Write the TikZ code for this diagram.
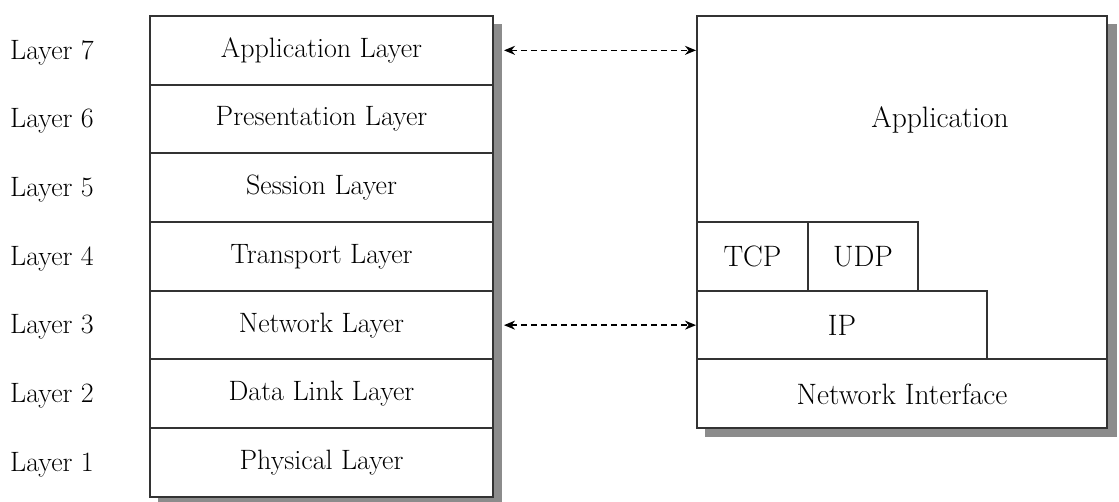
\documentclass[tikz,border=0pt]{standalone}
\usetikzlibrary{arrows.meta}
\begin{document}
\begin{tikzpicture}[x=1pt,y=-1pt,
  box/.style={draw=black!80, line width=2pt, fill=white, inner sep=0pt,
              font=\fontsize{28}{33}\selectfont},
  rbox/.style={box, font=\fontsize{29.5}{35}\selectfont},
  lbl/.style={font=\fontsize{28}{33}\selectfont, inner sep=0pt},
  shade/.style={fill=black!45},
  link/.style={line width=1.6pt, dash pattern=on 6pt off 4pt,
               {Stealth[length=11pt,width=9pt]}-{Stealth[length=11pt,width=9pt]}}]
\useasboundingbox (0,0) rectangle (1119,502);
% shadows
\fill[shade] (158,24) rectangle (502,506);
\fill[shade] (705,24) rectangle (1117,437);
% left stack
\foreach \i/\y/\t in {7/50.35/Application Layer, 6/119.05/Presentation Layer,
  5/187.75/Session Layer, 4/256.45/Transport Layer, 3/325.15/Network Layer,
  2/393.85/Data Link Layer, 1/462.55/Physical Layer}{
  \node[box, minimum width=343pt, minimum height=68.7pt] (L\i) at (321.5,\y) {\t};
  \node[lbl] (N\i) at (52,\y+2) {Layer \i};
}
% right stack
\node[rbox, minimum width=410pt, minimum height=412pt] (net) at (902,222) {};
\node[lbl, font=\fontsize{29.5}{35}\selectfont] (app) at (940,120) {Application};
\node[rbox, minimum width=111pt, minimum height=68.7pt] (tcp) at (752.5,256.45) {TCP};
\node[rbox, minimum width=110pt, minimum height=68.7pt] (udp) at (863,256.45) {UDP};
\node[rbox, minimum width=290pt, minimum height=68.7pt] (ip) at (842,325.15) {IP};
\node[rbox, minimum width=410pt, minimum height=68.7pt] (ni) at (902,393.85) {Network Interface};
% links
\draw[link] ([xshift=10pt]L7.east) -- (L7.east -| net.west);
\draw[link] ([xshift=10pt]L3.east) -- (L3.east -| ip.west);
\end{tikzpicture}
\end{document}
